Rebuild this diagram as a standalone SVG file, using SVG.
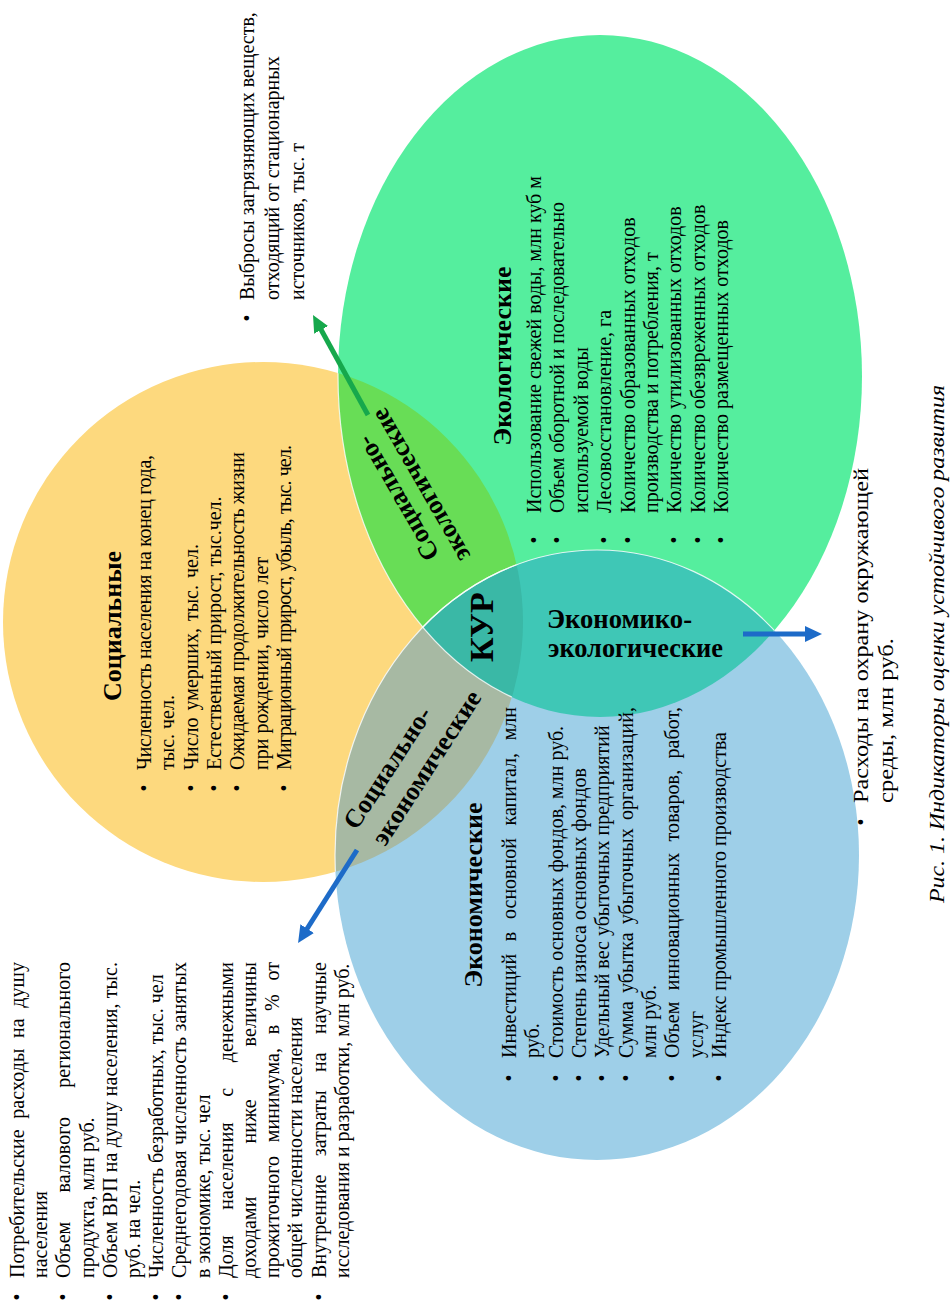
<svg xmlns="http://www.w3.org/2000/svg" width="950" height="1309" viewBox="0 0 950 1309">
<style>
.t{font-family:"Liberation Serif","Times New Roman",serif;font-size:20px;fill:#000}
.h{font-family:"Liberation Serif","Times New Roman",serif;font-weight:bold;fill:#000}
.i{font-family:"Liberation Serif","Times New Roman",serif;font-style:italic;fill:#000}
.edge{fill:none;stroke:#ffffff;stroke-width:1.2;stroke-opacity:0.8}
.ga{stroke:#16A84C;stroke-width:5;fill:none}
.ba{stroke:#1D6BC8;stroke-width:5;fill:none}
</style>
<defs>
<clipPath id="clipY"><circle cx="263" cy="622" r="260"/></clipPath>
<clipPath id="clipG"><ellipse cx="600" cy="376" rx="262" ry="341"/></clipPath>
<clipPath id="clipB"><ellipse cx="597" cy="855" rx="262" ry="305"/></clipPath>
<marker id="ahG" viewBox="0 -8 18 16" refX="1" refY="0" markerWidth="18" markerHeight="16" markerUnits="userSpaceOnUse" orient="auto"><path d="M0,-8 L17,0 L0,8 Z" fill="#16A84C"/></marker>
<marker id="ahB" viewBox="0 -8 18 16" refX="1" refY="0" markerWidth="18" markerHeight="16" markerUnits="userSpaceOnUse" orient="auto"><path d="M0,-8 L17,0 L0,8 Z" fill="#1D6BC8"/></marker>
</defs>
<rect width="950" height="1309" fill="#ffffff"/>

<g id="circles">
<circle id="c-social" cx="263" cy="622" r="260" fill="#FDD97E"/>
<ellipse id="c-ecological" cx="600" cy="376" rx="262" ry="341" fill="#55EE9E"/>
<ellipse id="c-economic" cx="597" cy="855" rx="262" ry="305" fill="#9ECFE8"/>
<ellipse id="lens-soc-ecol" cx="600" cy="376" rx="262" ry="341" fill="#68DD56" clip-path="url(#clipY)"/>
<ellipse id="lens-soc-econ" cx="597" cy="855" rx="262" ry="305" fill="#A7B9A3" clip-path="url(#clipY)"/>
<ellipse id="lens-econ-ecol" cx="597" cy="855" rx="262" ry="305" fill="#3FC7B6" clip-path="url(#clipG)"/>
<g clip-path="url(#clipY)"><ellipse id="lens-triple" cx="597" cy="855" rx="262" ry="305" fill="#3AB8A6" clip-path="url(#clipG)"/></g>
<g clip-path="url(#clipY)"><ellipse class="edge" cx="600" cy="376" rx="262" ry="341"/><ellipse class="edge" cx="597" cy="855" rx="262" ry="305"/></g>
<g clip-path="url(#clipG)"><ellipse class="edge" cx="597" cy="855" rx="262" ry="305"/></g>
</g>

<g id="connectors">
<line class="ga" x1="368" y1="415" x2="320.7" y2="329" marker-end="url(#ahG)"/>
<line class="ba" x1="357" y1="850" x2="306.6" y2="929.5" marker-end="url(#ahB)"/>
<line class="ba" x1="743" y1="634" x2="806" y2="634" marker-end="url(#ahB)"/>
</g>

<g id="social">
<g transform="rotate(-90)">
<text class="h" font-size="26" x="-626" y="121" text-anchor="middle">Социальные</text>
<text class="t" x="-791.5" y="151">•</text>
<text class="t" x="-791.5" y="197.6">•</text>
<text class="t" x="-791.5" y="221">•</text>
<text class="t" x="-791.5" y="244.3">•</text>
<text class="t" x="-791.5" y="291">•</text>
<text class="t" x="-770" y="151" textLength="315" lengthAdjust="spacing">Численность населения на конец года,</text>
<text class="t" x="-770" y="174.3">тыс. чел.</text>
<text class="t" x="-770" y="197.6" style="word-spacing:2px">Число умерших, тыс. чел.</text>
<text class="t" x="-770" y="221">Естественный прирост, тыс.чел.</text>
<text class="t" x="-770" y="244.3" textLength="318" lengthAdjust="spacing">Ожидаемая продолжительность жизни</text>
<text class="t" x="-770" y="267.6">при рождении, число лет</text>
<text class="t" x="-770" y="291" style="word-spacing:1px" textLength="325" lengthAdjust="spacing">Миграционный прирост, убыль, тыс. чел.</text>
</g>
</g>

<g id="ecological">
<g transform="rotate(-90)">
<text class="h" font-size="26" x="-356" y="511" text-anchor="middle">Экологические</text>
<text class="t" x="-543.5" y="541">•</text>
<text class="t" x="-543.5" y="564.4">•</text>
<text class="t" x="-543.5" y="611.2">•</text>
<text class="t" x="-543.5" y="634.6">•</text>
<text class="t" x="-543.5" y="681.4">•</text>
<text class="t" x="-543.5" y="704.8">•</text>
<text class="t" x="-543.5" y="728.2">•</text>
<text class="t" x="-513" y="541">Использование свежей воды, млн куб м</text>
<text class="t" x="-513" y="564.4" textLength="311" lengthAdjust="spacing">Объем оборотной и последовательно</text>
<text class="t" x="-513" y="587.8">используемой воды</text>
<text class="t" x="-513" y="611.2">Лесовосстановление, га</text>
<text class="t" x="-513" y="634.6">Количество образованных отходов</text>
<text class="t" x="-513" y="658">производства и потребления, т</text>
<text class="t" x="-513" y="681.4">Количество утилизованных отходов</text>
<text class="t" x="-513" y="704.8">Количество обезвреженных отходов</text>
<text class="t" x="-513" y="728.2">Количество размещенных отходов</text>
</g>
</g>

<g id="economic">
<g transform="rotate(-90)">
<text class="h" font-size="26" x="-895" y="482" text-anchor="middle">Экономические</text>
<text class="t" x="-1081.5" y="516">•</text>
<text class="t" x="-1081.5" y="562.6">•</text>
<text class="t" x="-1081.5" y="586">•</text>
<text class="t" x="-1081.5" y="609.3">•</text>
<text class="t" x="-1081.5" y="632.6">•</text>
<text class="t" x="-1081.5" y="679.3">•</text>
<text class="t" x="-1081.5" y="726">•</text>
<text class="t" x="-1058" y="516" style="word-spacing:7.8px" textLength="351" lengthAdjust="spacing">Инвестиций в основной капитал, млн</text>
<text class="t" x="-1058" y="539.3">руб.</text>
<text class="t" x="-1058" y="562.6">Стоимость основных фондов, млн руб.</text>
<text class="t" x="-1058" y="586">Степень износа основных фондов</text>
<text class="t" x="-1058" y="609.3">Удельный вес убыточных предприятий</text>
<text class="t" x="-1058" y="632.6" style="word-spacing:2.9px" textLength="351" lengthAdjust="spacing">Сумма убытка убыточных организаций,</text>
<text class="t" x="-1058" y="656">млн руб.</text>
<text class="t" x="-1058" y="679.3" style="word-spacing:6.2px" textLength="351" lengthAdjust="spacing">Объем инновационных товаров, работ,</text>
<text class="t" x="-1058" y="702.6">услуг</text>
<text class="t" x="-1058" y="726">Индекс промышленного производства</text>
</g>
</g>

<g id="kur">
<text class="h" font-size="34" transform="rotate(-90)" x="-662" y="493">КУР</text>
</g>

<g id="soc-ecol-label">
<text class="h" font-size="26" text-anchor="middle" transform="translate(405,494) rotate(-120)">Социально-</text>
<text class="h" font-size="26" text-anchor="middle" transform="translate(428,481) rotate(-120)">экологические</text>
</g>

<g id="soc-econ-label">
<text class="h" font-size="26" text-anchor="middle" transform="translate(394.7,772.4) rotate(-57)">Социально-</text>
<text class="h" font-size="26" text-anchor="middle" transform="translate(433.7,772.4) rotate(-57)">экономические</text>
</g>

<g id="econ-ecol-label">
<text class="h" font-size="28" x="547" y="628" textLength="145" lengthAdjust="spacingAndGlyphs">Экономико-</text>
<text class="h" font-size="28" x="548" y="657" textLength="175" lengthAdjust="spacingAndGlyphs">экологические</text>
</g>

<g id="social-economic-list">
<g transform="rotate(-90)">
<text class="t" x="-1300.5" y="24">•</text>
<text class="t" x="-1300.5" y="70.4">•</text>
<text class="t" x="-1300.5" y="116.8">•</text>
<text class="t" x="-1300.5" y="163.2">•</text>
<text class="t" x="-1300.5" y="186.4">•</text>
<text class="t" x="-1300.5" y="232.8">•</text>
<text class="t" x="-1300.5" y="325.6">•</text>
<text class="t" x="-1278" y="24" style="word-spacing:5.5px" textLength="316" lengthAdjust="spacing">Потребительские расходы на душу</text>
<text class="t" x="-1278" y="47.2">населения</text>
<text class="t" x="-1278" y="70.4" style="word-spacing:24px" textLength="316" lengthAdjust="spacing">Объем валового регионального</text>
<text class="t" x="-1278" y="93.6">продукта, млн руб.</text>
<text class="t" x="-1278" y="116.8" textLength="316" lengthAdjust="spacing">Объем ВРП на душу населения, тыс.</text>
<text class="t" x="-1278" y="140">руб. на чел.</text>
<text class="t" x="-1278" y="163.2">Численность безработных, тыс. чел</text>
<text class="t" x="-1278" y="186.4" textLength="316" lengthAdjust="spacing">Среднегодовая численность занятых</text>
<text class="t" x="-1278" y="209.6">в экономике, тыс. чел</text>
<text class="t" x="-1278" y="232.8" style="word-spacing:20.6px" textLength="316" lengthAdjust="spacing">Доля населения с денежными</text>
<text class="t" x="-1278" y="256" style="word-spacing:47.7px" textLength="316" lengthAdjust="spacing">доходами ниже величины</text>
<text class="t" x="-1278" y="279.2" style="word-spacing:8.6px" textLength="316" lengthAdjust="spacing">прожиточного минимума, в % от</text>
<text class="t" x="-1278" y="302.4">общей численности населения</text>
<text class="t" x="-1278" y="325.6" style="word-spacing:13.2px" textLength="316" lengthAdjust="spacing">Внутренние затраты на научные</text>
<text class="t" x="-1278" y="348.8">исследования и разработки, млн руб.</text>
</g>
</g>

<g id="social-ecological-list">
<g transform="rotate(-90)">
<text class="t" x="-321.5" y="254">•</text>
<text class="t" x="-300" y="254">Выбросы загрязняющих веществ,</text>
<text class="t" x="-300" y="279">отходящий от стационарных</text>
<text class="t" x="-300" y="304">источников, тыс. т</text>
</g>
</g>

<g id="economic-ecological-list">
<g transform="rotate(-90)">
<text class="t" x="-825.5" y="868">•</text>
<text class="t" x="-803" y="868" textLength="335" lengthAdjust="spacingAndGlyphs">Расходы на охрану окружающей</text>
<text class="t" x="-803" y="893" textLength="165" lengthAdjust="spacingAndGlyphs">среды, млн руб.</text>
</g>
</g>

<g id="caption">
<text class="i" font-size="22" transform="rotate(-90)" x="-903" y="944" textLength="518" lengthAdjust="spacingAndGlyphs">Рис. 1. Индикаторы оценки устойчивого развития</text>
</g>
</svg>
